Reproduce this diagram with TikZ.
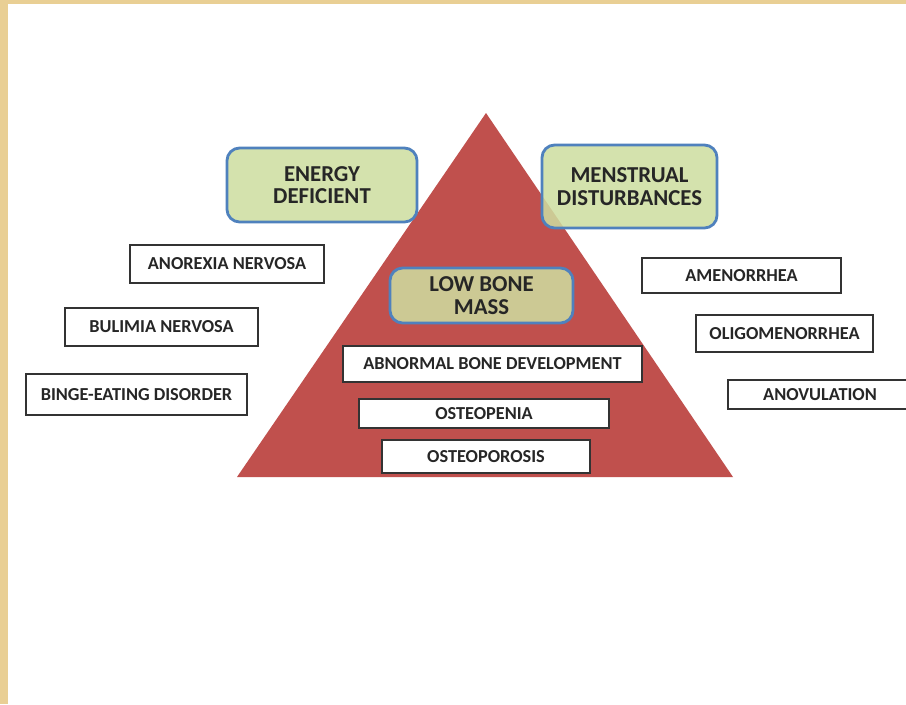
\documentclass[tikz,border=0pt]{standalone}
\usepackage{fontspec}
\setmainfont{Carlito}
\usepackage{tikz}

\definecolor{parch}{RGB}{233,207,148}
\definecolor{pyrred}{RGB}{192,80,77}
\definecolor{headgreen}{RGB}{206,222,160}
\definecolor{headblue}{RGB}{79,129,189}

\tikzset{
  head/.style={draw=headblue, line width=2pt, rounded corners=9pt,
    fill=headgreen, fill opacity=0.86, text opacity=1,
    align=center, font=\fontsize{16.2}{16}\selectfont\bfseries,
    text=black!85},
  item/.style={draw=black!80, line width=1.1pt, fill=white,
    font=\fontsize{13}{14}\selectfont\bfseries, text=black!85}
}

\begin{document}
\begin{tikzpicture}[x=0.025cm, y=-0.025cm]

% paper edge and page
\useasboundingbox (0,0) rectangle (906,704);
\fill[parch] (0,0) rectangle (906,704);
\fill[white] (8,4) rectangle (906,704);

% Pyramid
\fill[pyrred] (486,113) -- (733,477) -- (237,477) -- cycle;

% Headings
\node[head, minimum width=4.75cm, minimum height=1.85cm]
  (energy) at (322,185) {ENERGY\\DEFICIENT};
\node[head, minimum width=4.375cm, minimum height=2.075cm]
  (menstrual) at (629.5,186.5) {MENSTRUAL\\DISTURBANCES};
\node[head, minimum width=4.575cm, minimum height=1.375cm]
  (lowbone) at (481.5,295.5) {LOW BONE\\MASS};

% Inside the pyramid
\node[item, minimum width=7.475cm, minimum height=0.9cm]
  (abnormal) at (492.5,364) {ABNORMAL BONE DEVELOPMENT};
\node[item, minimum width=6.25cm, minimum height=0.725cm]
  (osteopenia) at (484,413.5) {OSTEOPENIA};
\node[item, minimum width=5.2cm, minimum height=0.825cm]
  (osteoporosis) at (486,456.5) {OSTEOPOROSIS};

% Eating disorders (left)
\node[item, minimum width=4.85cm, minimum height=0.95cm]
  (anorexia) at (227,264) {ANOREXIA NERVOSA};
\node[item, minimum width=4.825cm, minimum height=0.95cm]
  (bulimia) at (161.5,327) {BULIMIA NERVOSA};
\node[item, minimum width=5.525cm, minimum height=1.025cm]
  (binge) at (136.5,394.5) {BINGE-EATING DISORDER};

% Cycle disorders (right)
\node[item, minimum width=4.975cm, minimum height=0.875cm]
  (amenorrhea) at (741.5,275.5) {AMENORRHEA};
\node[item, minimum width=4.425cm, minimum height=0.925cm]
  (oligo) at (784.5,333.5) {OLIGOMENORRHEA};
\node[item, minimum width=4.6cm, minimum height=0.725cm]
  (anovulation) at (820,394.5) {ANOVULATION};

\end{tikzpicture}
\end{document}
